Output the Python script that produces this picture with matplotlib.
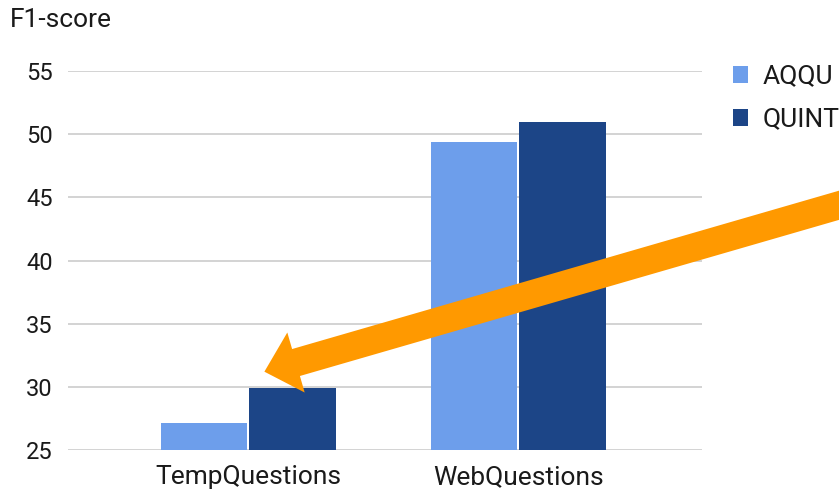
import numpy as np
import matplotlib
matplotlib.use("Agg")
import matplotlib.pyplot as plt

# data
categories = ["TempQuestions", "WebQuestions"]
series_names = ["AQQU", "QUINT"]
aqqu = [27.1, 49.4]
quint = [29.9, 51.0]
yticks = [25, 30, 35, 40, 45, 50, 55]

plt.rcParams['font.family'] = ['Roboto', 'DejaVu Sans']
txt = '#1a1a1a'

fig = plt.figure(figsize=(8.39, 4.91), dpi=100)
ax = fig.add_axes([68 / 839, 41 / 491, 634 / 839, 379 / 491])

x = np.arange(len(categories))
w = 0.32
b1 = ax.bar(x - w / 2 - 0.004, aqqu, w, color='#6d9eeb', label=series_names[0], zorder=3)
b2 = ax.bar(x + w / 2 + 0.004, quint, w, color='#1c4587', label=series_names[1], zorder=3)

ax.set_ylim(25, 55)
ax.set_xlim(-0.667, 1.68)
ax.set_yticks(yticks)
ax.set_xticks(x)
ax.set_xticklabels(categories, fontsize=19)
ax.yaxis.grid(True, color='#cccccc', lw=1.2, zorder=0)
for s in ax.spines.values():
    s.set_visible(False)
ax.tick_params(axis='both', length=0, labelcolor=txt)
ax.tick_params(axis='y', labelsize=17, pad=11)
ax.tick_params(axis='x', pad=11)

fig.text(10 / 839, 1 - 20 / 491, "F1-score", fontsize=19, color=txt, va='center', ha='left')

leg = fig.legend(handles=[b1, b2], loc='upper left', bbox_to_anchor=(722 / 839, 1 - 54 / 491),
                 frameon=False, fontsize=19, handlelength=0.6, handleheight=0.6,
                 handletextpad=0.55, labelspacing=0.72, borderaxespad=0)
for t in leg.get_texts():
    t.set_color(txt)

# orange callout arrow, coming in from beyond the right edge
ax.annotate("", xy=(0.06, 31.2), xycoords='data',
            xytext=(1.1, 1 - 181 / 491), textcoords='figure fraction',
            arrowprops=dict(arrowstyle="simple,head_length=23.7,head_width=45,tail_width=20.2",
                            mutation_scale=1, color='#ff9900', shrinkA=0, shrinkB=0, lw=0),
            annotation_clip=False, zorder=5)

fig.savefig("out.png", dpi=100)
